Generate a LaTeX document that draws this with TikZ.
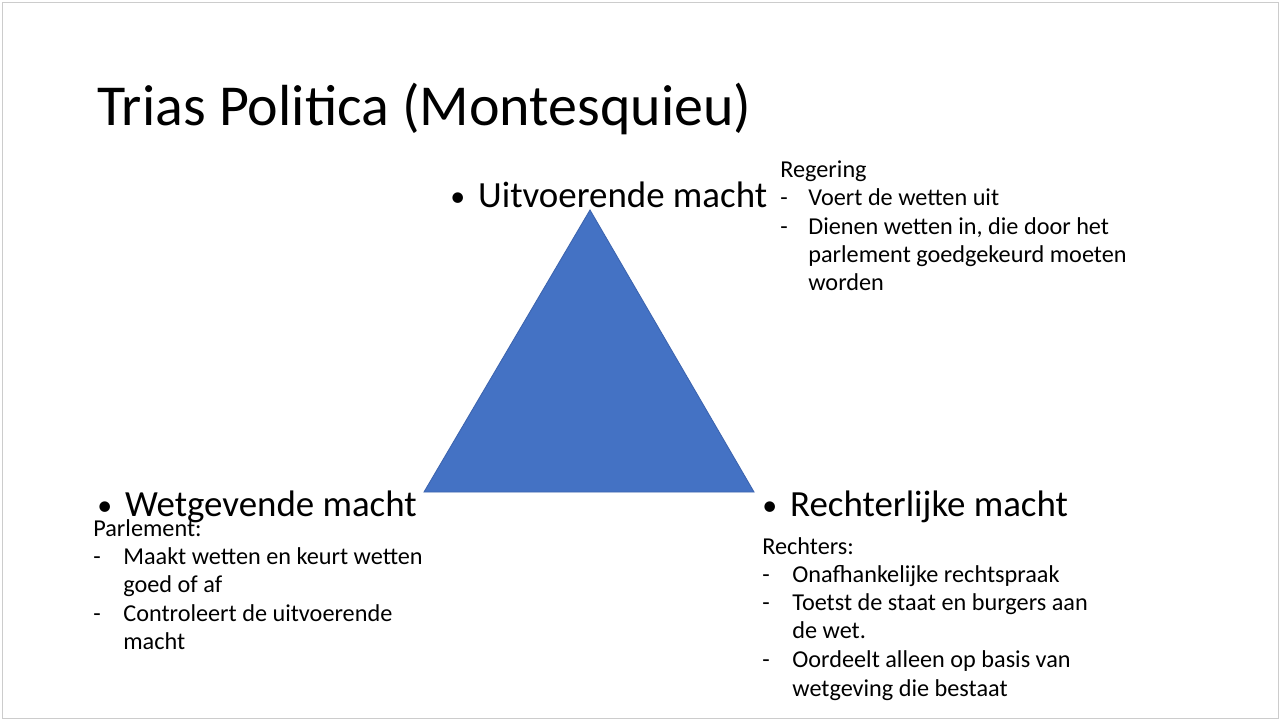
\documentclass[tikz,border=0pt]{standalone}
\usepackage{fontspec}
\setmainfont{Carlito}
\newcommand{\blt}{{\fontsize{17}{17}\selectfont\raisebox{0.05ex}{•}}\hspace{0.35em}}
\begin{document}
\begin{tikzpicture}[x=0.02cm,y=-0.02cm,
  title/.style={anchor=base west,font=\fontsize{33}{38}\selectfont,inner sep=0},
  head/.style={anchor=base west,font=\fontsize{21}{24}\selectfont,inner sep=0},
  small/.style={anchor=base west,font=\fontsize{13.8}{16}\selectfont,inner sep=0}]
\useasboundingbox (0,0) rectangle (1280,720);
\fill[white] (0,0) rectangle (1280,720);
\draw[gray!40] (2,2) rectangle (1278,718);
\node[title] (t) at (97,125) {Trias Politica (Montesquieu)};
\coordinate (A) at (590,210); \coordinate (B) at (424,492); \coordinate (C) at (754,492);
\filldraw[fill={rgb,255:red,68;green,114;blue,196},draw={rgb,255:red,60;green,100;blue,175},line width=0.5pt] (A)--(B)--(C)--cycle;
\node[head] (h1) at (450,207) {\blt Uitvoerende macht};
\node[head] (h2) at (97,516) {\blt Wetgevende macht};
\node[head] (h3) at (762,516) {\blt Rechterlijke macht};
% Uitvoerende
\node[small] (r0) at (780,177) {Regering};
\node[small] (r1) at (780,205) {-};
\node[small] (r1t) at (808,205) {Voert de wetten uit};
\node[small] (r2) at (780,234) {-};
\node[small] (r2t) at (808,234) {Dienen wetten in, die door het};
\node[small] (r3) at (808,262) {parlement goedgekeurd moeten};
\node[small] (r4) at (808,290) {worden};
% Wetgevende
\node[small] (w0) at (93,536) {Parlement:};
\node[small] (w1) at (93,564) {-};
\node[small] (w1t) at (123,564) {Maakt wetten en keurt wetten};
\node[small] (w2) at (123,592) {goed of af};
\node[small] (w3) at (93,621) {-};
\node[small] (w3t) at (123,621) {Controleert de uitvoerende};
\node[small] (w4) at (123,649) {macht};
% Rechterlijke
\node[small] (k0) at (762,554) {Rechters:};
\node[small] (k1) at (762,582) {-};
\node[small] (k1t) at (792,582) {Onafhankelijke rechtspraak};
\node[small] (k2) at (762,610) {-};
\node[small] (k2t) at (792,610) {Toetst de staat en burgers aan};
\node[small] (k3) at (792,638) {de wet.};
\node[small] (k4) at (762,667) {-};
\node[small] (k4t) at (792,667) {Oordeelt alleen op basis van};
\node[small] (k5) at (792,696) {wetgeving die bestaat};
\end{tikzpicture}
\end{document}
